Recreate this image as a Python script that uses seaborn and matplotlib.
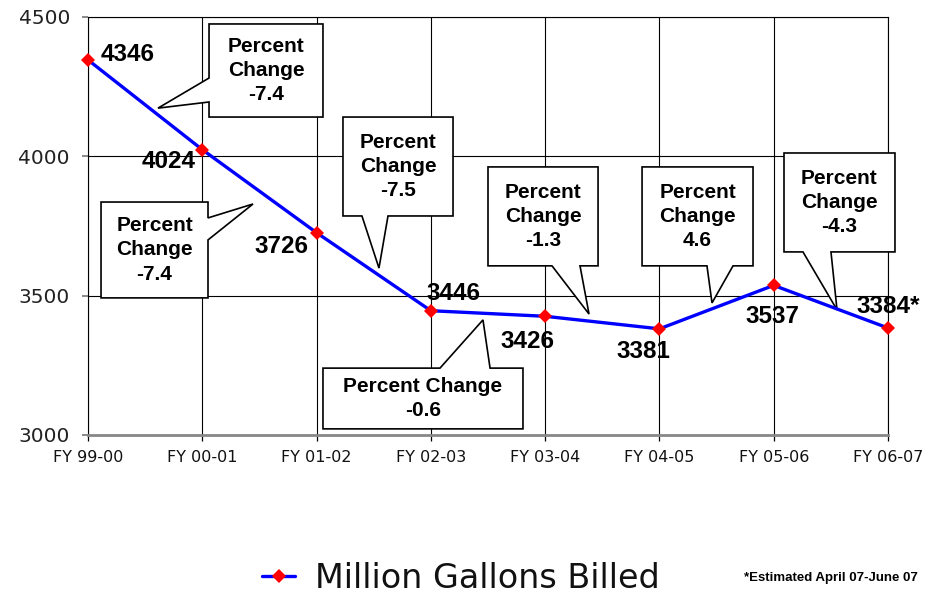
import matplotlib
matplotlib.use("Agg")
import matplotlib.pyplot as plt
import seaborn as sns
import pandas as pd
from matplotlib.patches import Polygon

# ---------------- data ----------------
years = ["FY 99-00", "FY 00-01", "FY 01-02", "FY 02-03",
         "FY 03-04", "FY 04-05", "FY 05-06", "FY 06-07"]
gallons = [4346, 4024, 3726, 3446, 3426, 3381, 3537, 3384]
point_labels = ["4346", "4024", "3726", "3446", "3426", "3381", "3537", "3384*"]
pct_texts = ["Percent\nChange\n-7.4", "Percent\nChange\n-7.4", "Percent\nChange\n-7.5",
             "Percent Change\n-0.6", "Percent\nChange\n-1.3", "Percent\nChange\n4.6",
             "Percent\nChange\n-4.3"]
series_name = "Million Gallons Billed"
footnote = "*Estimated April 07-June 07"

# ---------------- layout (annotation placement) ----------------
label_offsets = [(40, 5), (-34, -12), (-35, -14), (23, 17),
                 (-18, -25), (-16, -23), (-1, -31), (0, 21)]
callouts = [
    ((1.059, 2.056, 4141, 4475), "left", 4195, 4281, (0.6125, 4173)),
    ((0.114, 1.050, 3492, 3836), "right", 3700, 3779, (1.444, 3829)),
    ((2.231, 3.194, 3786, 4141), "bottom", 2.397, 2.625, (2.546, 3599)),
    ((2.056, 3.806, 3022, 3240), "top", 3.080, 3.518, (3.456, 3413)),
    ((3.500, 4.463, 3607, 3962), "bottom", 4.060, 4.305, (4.384, 3434)),
    ((4.848, 5.819, 3607, 3962), "bottom", 5.416, 5.644, (5.460, 3474)),
    ((6.090, 7.061, 3657, 4012), "bottom", 6.256, 6.501, (6.554, 3449)),
]

sns.set_style("white")
plt.rcParams["font.family"] = ["DejaVu Sans"]
plt.rcParams["text.color"] = "black"

W, H = 926, 593
fig = plt.figure(figsize=(W / 100, H / 100), dpi=100)
ax = fig.add_axes([88 / W, 1 - 435 / H, 800 / W, 418 / H])

df = pd.DataFrame({"x": range(len(years)), "y": gallons})
sns.lineplot(data=df, x="x", y="y", ax=ax, color="#0000FF", lw=2.4,
             marker="D", markersize=7, markerfacecolor="#FF0000",
             markeredgecolor="#FF0000", markeredgewidth=0, zorder=5,
             label=series_name, legend=False)
for ln in ax.get_lines():
    ln.set_clip_on(False)

ax.set_xlim(0, 7)
ax.set_ylim(3000, 4500)
ax.set_xticks(range(len(years)))
ax.set_xticklabels(years, fontsize=11.5, color="#111111")
ax.set_yticks([3000, 3500, 4000, 4500])
ax.set_yticklabels(["3000", "3500", "4000", "4500"], fontsize=14.5, color="#222222")
ax.set_xlabel("")
ax.set_ylabel("")
ax.tick_params(axis="x", length=4.5, width=0.9, color="black", pad=6, direction="out", bottom=True)
ax.tick_params(axis="y", length=4.5, width=1.2, color="#777777", pad=8.5, direction="out", left=True)
ax.grid(True, color="black", lw=0.8, zorder=1)
ax.set_axisbelow(True)
for s in ["left", "right", "top"]:
    ax.spines[s].set_visible(True)
    ax.spines[s].set_color("black")
    ax.spines[s].set_linewidth(0.8)
ax.spines["bottom"].set_color("#888888")
ax.spines["bottom"].set_linewidth(2)

bold = dict(family=["Liberation Sans", "DejaVu Sans"], weight="bold", color="black")

for i, (lab, (dx, dy)) in enumerate(zip(point_labels, label_offsets)):
    ax.annotate(lab, xy=(i, gallons[i]), xytext=(dx, dy), textcoords="offset pixels",
                ha="center", va="center", fontsize=17.5, zorder=6, **bold)

for (box, side, b1, b2, tip), txt in zip(callouts, pct_texts):
    x0, x1, y0, y1 = box
    if side == "left":
        pts = [(x0, y1), (x1, y1), (x1, y0), (x0, y0), (x0, b1), tip, (x0, b2)]
    elif side == "right":
        pts = [(x0, y1), (x1, y1), (x1, b2), tip, (x1, b1), (x1, y0), (x0, y0)]
    elif side == "bottom":
        pts = [(x0, y1), (x1, y1), (x1, y0), (b2, y0), tip, (b1, y0), (x0, y0)]
    else:
        pts = [(x0, y1), (b1, y1), tip, (b2, y1), (x1, y1), (x1, y0), (x0, y0)]
    poly = Polygon(pts, closed=True, facecolor="white", edgecolor="black",
                   lw=1.2, zorder=3, clip_on=False)
    ax.add_patch(poly)
    ax.text((x0 + x1) / 2, (y0 + y1) / 2, txt, ha="center", va="center",
            fontsize=15, linespacing=1.35, zorder=4, **bold)

handle = ax.get_lines()[0]
leg = fig.legend(handles=[handle], labels=[series_name], loc="center left",
                 bbox_to_anchor=(262 / W, 1 - 578 / H), frameon=False,
                 fontsize=24, handlelength=1.0, handletextpad=0.6,
                 borderpad=0, borderaxespad=0, numpoints=1)
for t in leg.get_texts():
    t.set_color("#111111")

fig.text(918 / W, 1 - 578 / H, footnote, ha="right", va="center",
         fontsize=9.5, **bold)

fig.savefig("out.png", dpi=100)
